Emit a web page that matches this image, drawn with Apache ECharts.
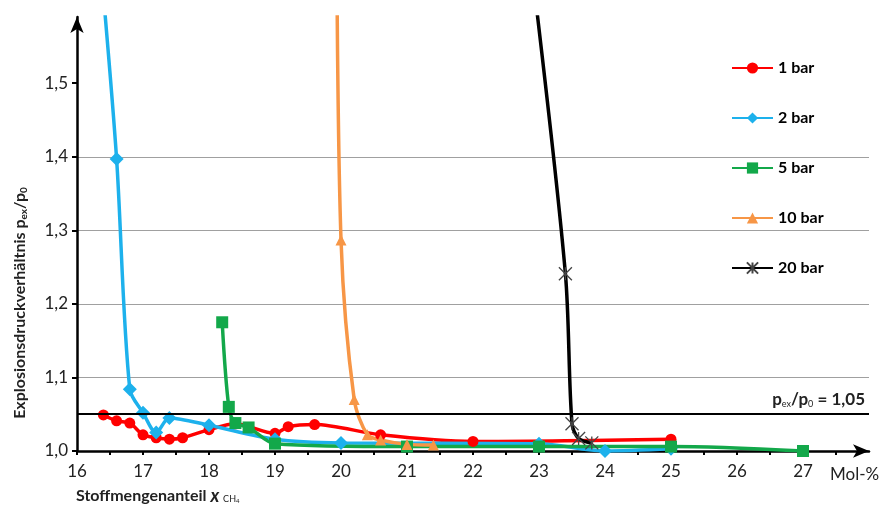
<!DOCTYPE html>
<html><head><meta charset="utf-8">
<script src="https://cdn.jsdelivr.net/npm/echarts@6/dist/echarts.min.js"></script>
<style>html,body{margin:0;padding:0;background:#fff}#c{width:883px;height:506px}</style>
</head><body><div id="c"></div>
<script>
const seriesNames = ['1 bar','2 bar','5 bar','10 bar','20 bar'];
const x1 = [16.4,16.6,16.8,17.0,17.2,17.4,17.6,18.0,18.4,19.0,19.2,19.6,20.6,22.0,25.0];
const y1 = [1.049,1.041,1.038,1.022,1.018,1.016,1.018,1.029,1.037,1.024,1.033,1.036,1.022,1.013,1.016];
const x2 = [16.4,16.6,16.8,17.0,17.2,17.4,18.0,19.0,20.0,23.0,24.0,25.0];
const y2 = [1.62,1.397,1.084,1.052,1.025,1.045,1.035,1.016,1.011,1.010,1.0,1.003];
const x5 = [18.2,18.3,18.4,18.6,19.0,21.0,23.0,25.0,27.0];
const y5 = [1.175,1.060,1.038,1.032,1.010,1.006,1.006,1.006,1.0];
const x10 = [19.93,20.0,20.2,20.4,20.6,21.0,21.4];
const y10 = [1.8,1.287,1.070,1.022,1.015,1.009,1.008];
const x20 = [22.9,23.4,23.5,23.6,23.8];
const y20 = [1.65,1.241,1.037,1.017,1.011];
const xTickLabels = [16,17,18,19,20,21,22,23,24,25,26,27];
const yTickLabels = [1.0,1.1,1.2,1.3,1.4,1.5];
const thresholdValue = 1.05;

const FONT = 'Lato, "Open Sans", sans-serif';
const pair = (xs, ys) => xs.map((x, i) => [x, ys[i]]);
const xTicks = [];
for (let v = 16; v <= 27.5; v += 0.5) xTicks.push(v);

const chart = echarts.init(document.getElementById('c'));
const base = {type:'line', smooth:0.3, clip:true, lineStyle:{width:3.5}, z:2};
chart.setOption({
  animation:false,
  backgroundColor:'#fff',
  grid:{left:77, right:14, top:17, bottom:55},
  legend:{
    orient:'vertical', left:726, top:55, itemWidth:41, itemHeight:14, itemGap:34,
    data:seriesNames,
    textStyle:{fontFamily:FONT, fontWeight:'bold', fontSize:16, color:'#000'}
  },
  xAxis:{
    type:'value', min:16, max:28, interval:0.5,
    axisLine:{lineStyle:{color:'#000', width:2.5}, symbol:['none','arrow'], symbolSize:[10,16]},
    axisTick:{customValues:xTicks, length:4, lineStyle:{color:'#000', width:2}},
    axisLabel:{customValues:xTickLabels, margin:12, fontFamily:FONT, fontSize:17, color:'#222'},
    splitLine:{show:false}
  },
  yAxis:{
    type:'value', min:1.0, max:1.59, interval:0.1,
    axisLine:{show:true, lineStyle:{color:'#000', width:2.5}, symbol:['none','arrow'], symbolSize:[10,16]},
    axisTick:{show:true, customValues:yTickLabels, length:5, lineStyle:{color:'#000', width:2}},
    axisLabel:{customValues:yTickLabels, margin:9, fontFamily:FONT, fontSize:17, color:'#222',
      formatter:v => v.toFixed(1).replace('.', ',')},
    splitLine:{show:true, showMinLine:false, showMaxLine:false, lineStyle:{color:'#a0a0a0', width:1}}
  },
  series:[
    Object.assign({}, base, {name:seriesNames[0], data:pair(x1,y1), symbol:'circle', symbolSize:11,
      itemStyle:{color:'#ff0000'},
      markLine:{silent:true, symbol:'none', data:[{yAxis:thresholdValue}],
        lineStyle:{color:'#000', width:2, type:'solid'},
        label:{position:'insideEndTop', distance:[4,6],
          formatter:'{p|p}{s|ex}{p|/p}{s|0}{p| = 1,05}',
          rich:{p:{fontFamily:FONT, fontSize:17, color:'#222', fontWeight:'bold'},
                s:{fontFamily:FONT, fontSize:9, color:'#222', verticalAlign:'bottom', padding:[8,0,0,0]}}}}}),
    Object.assign({}, base, {name:seriesNames[1], data:pair(x2,y2), symbol:'diamond', symbolSize:14,
      itemStyle:{color:'#1db1ec'}}),
    Object.assign({}, base, {name:seriesNames[2], data:pair(x5,y5), symbol:'rect', symbolSize:12,
      itemStyle:{color:'#13a84a'}}),
    Object.assign({}, base, {name:seriesNames[3], data:pair(x10,y10), symbol:'triangle', symbolSize:11,
      itemStyle:{color:'#f79646'}}),
    Object.assign({}, base, {name:seriesNames[4], data:pair(x20,y20),
      symbol:'path://M0,0L10,10M10,0L0,10M5,0L5,10', symbolSize:13,
      itemStyle:{color:'#000', borderColor:'#444', borderWidth:1.3}})
  ],
  graphic:[
    {type:'text', x:20, y:303, rotation:Math.PI/2,
      style:{text:'Explosionsdruckverhältnis p{s|ex}/p{s|0}', align:'center', verticalAlign:'middle',
        fontFamily:FONT, fontWeight:'bold', fontSize:16, fill:'#222',
        rich:{s:{fontFamily:FONT, fontWeight:'bold', fontSize:10, fill:'#222', padding:[7,0,0,0]}}}},
    {type:'text', x:76, y:496,
      style:{text:'Stoffmengenanteil {i|x} {s|CH}{ss|4}', align:'left', verticalAlign:'middle',
        fontFamily:FONT, fontWeight:'bold', fontSize:16, fill:'#222',
        rich:{i:{fontFamily:FONT, fontWeight:'bold', fontStyle:'italic', fontSize:18, fill:'#222'},
              s:{fontFamily:FONT, fontSize:9, fill:'#222', padding:[7,0,0,0]},
              ss:{fontFamily:FONT, fontSize:6, fill:'#222', padding:[11,0,0,0]}}}},
    {type:'text', x:830, y:475,
      style:{text:'Mol-%', align:'left', verticalAlign:'middle', fontFamily:FONT, fontSize:17, fill:'#222'}}
  ]
});
</script></body></html>
